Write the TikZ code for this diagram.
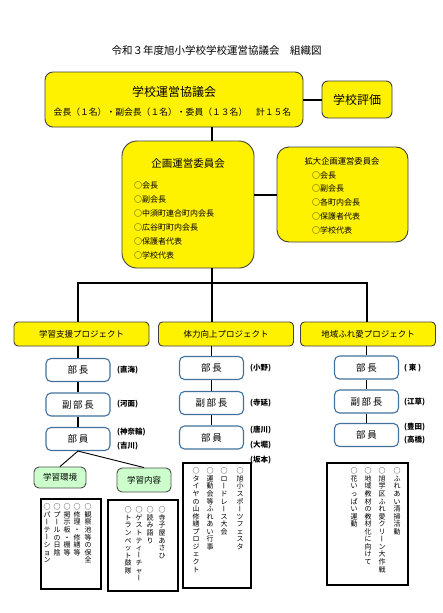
\documentclass[tikz,border=0pt]{standalone}
\usepackage{fontspec}
\setmainfont{Noto Sans CJK JP}
\usetikzlibrary{positioning}

\definecolor{boxline}{HTML}{404040}
\definecolor{unitline}{HTML}{41719C}
\definecolor{greenfill}{HTML}{CCFFCC}

\newcommand\fsz[1]{\fontsize{#1}{#1}\selectfont}
% vertical writing: one character per box
\newcommand\tate[1]{\vbox{\offinterlineskip\expandafter\tatestep#1\relax}}
\newcommand\tatestep[1]{\ifx\relax#1\else\hbox to 1em{\hss\rule[-0.14em]{0pt}{1.08em}#1\hss}\expandafter\tatestep\fi}
\newcommand\vcho{\rotatebox[origin=c]{90}{\rule[-0.12em]{0pt}{1em}ー}}

\tikzset{
  ybox/.style={draw=boxline, fill=yellow, line width=0.9pt, inner sep=0pt},
  unitbox/.style={draw=unitline, fill=white, line width=1.1pt, rounded corners=5pt, inner sep=0pt,
    minimum width=64, minimum height=23, font=\fsz{9.5}},
  gbox/.style={draw=black!70, fill=greenfill, line width=0.9pt, rounded corners=5pt, inner sep=0pt, font=\fsz{8.5}},
  tbox/.style={draw=black, line width=1.2pt, inner sep=0pt},
  tatecol/.style={anchor=north, inner sep=0pt, font=\fsz{7}},
  member/.style={anchor=west, inner sep=0pt},
  person/.style={anchor=west, inner sep=0pt, font=\fsz{7.5}\bfseries},
  trunk/.style={line width=2pt},
  link/.style={line width=1.3pt},
}

\begin{document}
\begin{tikzpicture}[x=1pt, y=-1pt]
  \useasboundingbox (0,0) rectangle (443,613);

  \node[font=\fsz{10.5}] (title) at (216.5,51) {令和３年度旭小学校学校運営協議会　組織図};

  % council and evaluation
  \node[ybox, rounded corners=8pt, minimum width=258, minimum height=55] (unei) at (174,99.5) {};
  \node[font=\fsz{12}] (unei-t) at (174,92) {学校運営協議会};
  \node[font=\fsz{8.8}] (unei-m) at (172.5,112) {会長（１名）・副会長（１名）・委員（１３名）　計１５名};
  \node[ybox, rounded corners=6pt, minimum width=70, minimum height=37, font=\fsz{12}] (hyoka) at (357,99.5) {学校評価};

  % planning committees
  \node[ybox, rounded corners=15pt, minimum width=132, minimum height=127] (kikaku) at (188,204.5) {};
  \node[font=\fsz{10.5}] (kikaku-t) at (188,164) {企画運営委員会};
  \foreach \t [count=\i] in {会長,副会長,中須町連合町内会長,広谷町町内会長,保護者代表,学校代表}
    \node[member, font=\fsz{8}] (kikaku-\i) at (134,{185+14*(\i-1)}) {○\t};

  \node[ybox, rounded corners=12pt, minimum width=131, minimum height=95] (kakudai) at (342.5,194.5) {};
  \node[font=\fsz{8.3}] (kakudai-t) at (342,161) {拡大企画運営委員会};
  \foreach \t [count=\i] in {会長,副会長,各町内会長,保護者代表,学校代表}
    \node[member, font=\fsz{8}] (kakudai-\i) at (312,{175+13.8*(\i-1)}) {○\t};

  % projects
  \foreach \x/\t [count=\i] in {81.5/学習支援プロジェクト, 226/体力向上プロジェクト, 368/地域ふれ愛プロジェクト}
    \node[ybox, rounded corners=4pt, minimum width=135, minimum height=24, font=\fsz{8.5}] (proj\i) at (\x,334) {\t};

  \foreach \i/\x/\ya/\yb/\yc in {1/78/370/404.5/439, 2/211.5/368/403/437.5, 3/366.5/367.5/401.5/435} {
    \node[unitbox] (bucho\i) at (\x,\ya) {部\,長};
    \node[unitbox] (fuku\i) at (\x,\yb) {副\,部\,長};
    \node[unitbox] (buin\i) at (\x,\yc) {部\,員};
  }

  % members
  \node[person] (p-naomi) at (117,370) {(直海)};
  \node[person] (p-komo) at (117,404) {(河面)};
  \node[person] (p-kanawa) at (117,432) {(神奈輪)};
  \node[person] (p-yoshikawa) at (117,446) {(吉川)};
  \node[person] (p-ono) at (250,368) {(小野)};
  \node[person] (p-teranobe) at (250,403) {(寺延)};
  \node[person] (p-karakawa) at (250,430) {(唐川)};
  \node[person] (p-ohori) at (250,445) {(大堀)};
  \node[person] (p-sakamoto) at (250,460) {(坂本)};
  \node[person] (p-higashi) at (404,368) {( 東 )};
  \node[person] (p-egusa) at (404,402) {(江草)};
  \node[person] (p-toyota) at (404,427) {(豊田)};
  \node[person] (p-takahashi) at (404,440) {(高橋)};

  % sub groups
  \node[gbox, minimum width=52, minimum height=21] (kankyo) at (60,477.5) {学習環境};
  \node[gbox, minimum width=54, minimum height=24] (naiyo) at (144,480) {学習内容};

  % activity lists
  \node[tbox, minimum width=60, minimum height=90] (listA) at (71,544) {};
  \foreach \x/\t [count=\i] in {88/○観察池等の保全, 77/○修理・修繕等, 67/○掲示板・棚等, 57/○プ\vcho ルの日陰, 47/○パ\vcho テ\vcho ション}
    \node[tatecol] (listA-\i) at (\x,503) {\tate{\t}};
  \node[tbox, minimum width=70, minimum height=91] (listB) at (143,545.5) {};
  \foreach \x/\t [count=\i] in {162/○寺子屋あさひ, 150/○読み語り, 139/○ゲストティ\vcho チャ\vcho, 128/○トランペット鼓隊}
    \node[tatecol] (listB-\i) at (\x,506) {\tate{\t}};
  \node[tbox, minimum width=68, minimum height=125] (listC) at (217,525.5) {};
  \foreach \x/\t [count=\i] in {240/○旭小スポ\vcho ツフェスタ, 224/○ロ\vcho ドレ\vcho ス大会, 210/○運動会等ふれあい行事, 196/○タイヤの山修繕プロジェクト}
    \node[tatecol] (listC-\i) at (\x,467) {\tate{\t}};
  \node[tbox, minimum width=81, minimum height=122] (listD) at (367.5,524) {};
  \foreach \x/\t [count=\i] in {397/○ふれあい清掃活動, 382/○旭学区ふれ愛クリ\vcho ン大作戦, 368/○地域教材の教材化に向けて, 354/○花いっぱい運動}
    \node[tatecol] (listD-\i) at (\x,467) {\tate{\t}};

  % connectors
  \coordinate (bus) at (212,283);
  \draw[trunk] (unei) -- (hyoka);
  \draw[trunk] (kikaku.east |- kakudai) -- (kakudai);
  \draw[trunk] (unei.south -| bus) -- (kikaku.north -| bus);
  \draw[trunk] (kikaku.south -| bus) -- (proj2.north -| bus);
  \draw[trunk] (proj1.north -| bucho1) |- (bus) -| (proj3.north -| bucho3);
  \foreach \i in {1,2,3} {
    \draw[link] (proj\i.south -| bucho\i) -- (bucho\i);
    \draw[link] (bucho\i) -- (fuku\i);
    \draw[link] (fuku\i) -- (buin\i);
  }
  \draw[line width=0.9pt] (buin1.south) -- (kankyo.north);
  \draw[line width=0.9pt] (buin1.south) -- (naiyo.north);
\end{tikzpicture}
\end{document}
